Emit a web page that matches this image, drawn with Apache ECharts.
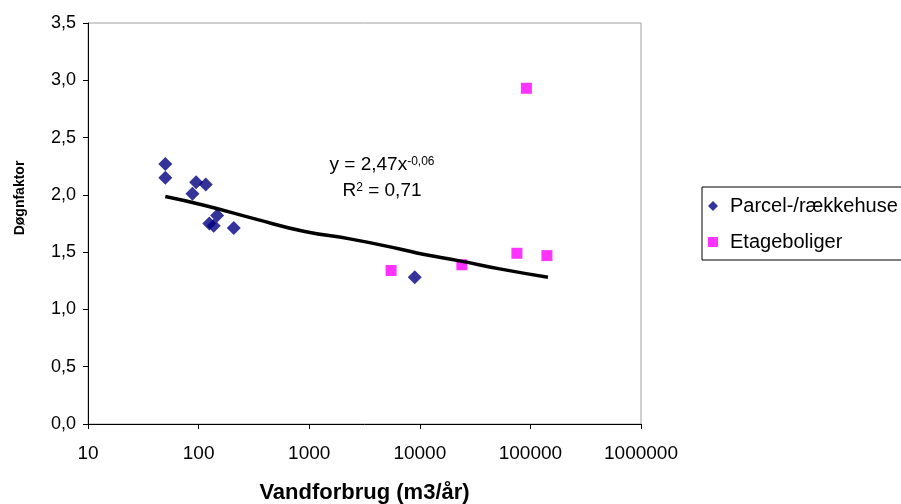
<!DOCTYPE html>
<html>
<head>
<meta charset="utf-8">
<script src="https://cdn.jsdelivr.net/npm/echarts@6/dist/echarts.min.js"></script>
<style>
  html, body { margin: 0; padding: 0; background: #fff; }
  #chart { width: 901px; height: 504px; }
</style>
</head>
<body>
<div id="chart"></div>
<script>
// Parcel-/rækkehuse: [vandforbrug, døgnfaktor]
var parcelX = [50, 50, 95, 116, 88, 147, 125, 137, 208, 9000];
var parcelY = [2.27, 2.15, 2.11, 2.09, 2.01, 1.82, 1.75, 1.73, 1.71, 1.28];

// Etageboliger
var etageX = [5500, 24000, 75500, 92000, 141000];
var etageY = [1.34, 1.39, 1.49, 2.93, 1.47];

// tendenslinje
var trendX = [50, 114, 323, 912, 2330, 6580, 10700, 22900, 52700, 144000];
var trendY = [1.985, 1.907, 1.79, 1.68, 1.616, 1.528, 1.482, 1.424, 1.354, 1.281];

var yTicks = [0, 0.5, 1, 1.5, 2, 2.5, 3, 3.5];

function pairs(xs, ys) {
    var out = [];
    for (var i = 0; i < xs.length; i++) out.push([xs[i], ys[i]]);
    return out;
}

var dom = document.getElementById("chart");
var myChart = echarts.init(dom);
var fam = 'Liberation Sans, Arial, sans-serif';

var option = {
    animation: false,
    textStyle: { fontFamily: fam, color: '#000' },
    grid: {
        left: 88,
        right: 260,
        top: 23,
        bottom: 80,
        outerBoundsMode: 'none',
        containLabel: false,
        show: true,
        borderColor: '#a0a0a0',
        borderWidth: 1,
        backgroundColor: '#fff'
    },
    xAxis: {
        type: 'log',
        logBase: 10,
        min: 10,
        max: 1000000,
        name: 'Vandforbrug (m3/år)',
        nameLocation: 'middle',
        nameGap: 58,
        nameTextStyle: { fontSize: 22, fontWeight: 'bold', color: '#000' },
        axisLine: { lineStyle: { color: '#000', width: 1 } },
        axisTick: { show: true, inside: false, length: 5, lineStyle: { color: '#000' } },
        axisLabel: {
            fontSize: 19,
            color: '#000',
            margin: 20,
            formatter: function (v) { return String(Math.round(v)); }
        },
        splitLine: { show: false },
        minorTick: { show: false }
    },
    yAxis: {
        type: 'value',
        min: 0,
        max: 3.5,
        interval: 0.5,
        axisLine: { show: true, lineStyle: { color: '#000', width: 1 } },
        axisTick: { show: true, inside: false, length: 5, lineStyle: { color: '#000' } },
        axisLabel: {
            fontSize: 18,
            color: '#000',
            margin: 12,
            formatter: function (v) { return v.toFixed(1).replace('.', ','); }
        },
        splitLine: { show: false }
    },
    legend: {
        orient: 'vertical',
        left: 702,
        top: 187,
        borderColor: '#000',
        borderWidth: 1,
        padding: [9, 20, 8, 6],
        itemWidth: 10,
        itemHeight: 10,
        itemGap: 16,
        textStyle: { fontSize: 20, color: '#000', padding: [0, 0, 0, 7] },
        data: [
            { name: 'Parcel-/rækkehuse', icon: 'diamond' },
            { name: 'Etageboliger', icon: 'rect' }
        ]
    },
    graphic: [
        {
            type: 'text',
            x: 20,
            y: 198,
            rotation: Math.PI / 2,
            style: {
                text: 'Døgnfaktor',
                font: 'bold 14px ' + fam,
                fill: '#000',
                textAlign: 'center',
                textVerticalAlign: 'middle'
            }
        },
        {
            type: 'text',
            x: 382,
            y: 165,
            style: {
                text: '{n|y = 2,47x}{s|-0,06}',
                textAlign: 'center',
                textVerticalAlign: 'middle',
                rich: {
                    n: { fontSize: 19, fontFamily: fam, fill: '#000' },
                    s: { fontSize: 12, fontFamily: fam, fill: '#000', verticalAlign: 'top' }
                }
            }
        },
        {
            type: 'text',
            x: 382,
            y: 191,
            style: {
                text: '{n|R}{s|2}{n| = 0,71}',
                textAlign: 'center',
                textVerticalAlign: 'middle',
                rich: {
                    n: { fontSize: 19, fontFamily: fam, fill: '#000' },
                    s: { fontSize: 12, fontFamily: fam, fill: '#000', verticalAlign: 'top' }
                }
            }
        }
    ],
    series: [
        {
            name: 'Trend',
            type: 'line',
            data: pairs(trendX, trendY),
            showSymbol: false,
            symbol: 'none',
            smooth: true,
            lineStyle: { color: '#000', width: 3.5 },
            z: 3
        },
        {
            name: 'Parcel-/rækkehuse',
            type: 'scatter',
            data: pairs(parcelX, parcelY),
            symbol: 'diamond',
            symbolSize: 14,
            itemStyle: { color: '#000080' },
            z: 2
        },
        {
            name: 'Etageboliger',
            type: 'scatter',
            data: pairs(etageX, etageY),
            symbol: 'rect',
            symbolSize: 11,
            itemStyle: { color: '#ff00ff' },
            z: 2
        }
    ]
};

if (option && typeof option === "object") {
    myChart.setOption(option, true);
}
</script>
</body>
</html>
